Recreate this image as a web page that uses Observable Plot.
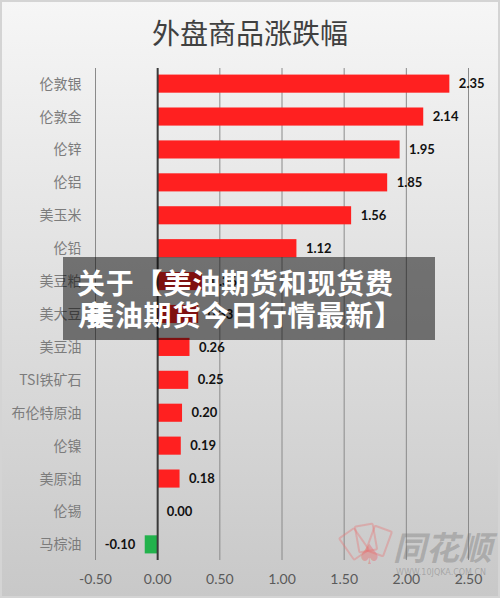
<!DOCTYPE html>
<html><head><meta charset="utf-8">
<script src="https://cdn.jsdelivr.net/npm/d3@7"></script>
<script src="https://cdn.jsdelivr.net/npm/@observablehq/plot@0.6"></script>
<style>
body{margin:0;}
#wrap{position:relative;width:500px;height:598px;overflow:hidden;background:linear-gradient(#f6f6f6,#c8c8c8);}
#frame{position:absolute;left:0;top:0;width:500px;height:598px;box-sizing:border-box;border:2px solid #d4d4d4;pointer-events:none;}
#title{position:absolute;left:0;top:15px;width:500px;text-align:center;font:28px/34px "Noto Sans CJK SC",sans-serif;color:#404040;}
#chart{position:absolute;left:0;top:60px;}
#overlay{position:absolute;left:63px;top:257px;width:372px;height:83px;background:rgba(0,0,0,0.5);}
.ov{position:absolute;color:#fff;font:bold 28px/30px "Noto Sans CJK SC",sans-serif;letter-spacing:0.8px;white-space:nowrap;}
#wm{position:absolute;left:393px;top:528px;font:italic bold 33px/36px "Noto Sans CJK SC",sans-serif;color:rgba(110,110,110,0.35);}
#wm2{position:absolute;left:396px;top:568px;font:8px/10px "DejaVu Sans",sans-serif;color:rgba(110,110,110,0.4);}
#spade{position:absolute;left:357px;top:540px;font:28px/30px "DejaVu Sans",sans-serif;color:rgba(230,110,110,0.45);}
.card{position:absolute;width:16px;height:24px;border:2px solid rgba(230,120,120,0.4);border-radius:2px;}
</style></head>
<body>
<div id="wrap">
  <div id="title">外盘商品涨跌幅</div>
  <div id="chart"></div>
  <div class="card" style="left:344px;top:530px;transform:rotate(-35deg)"></div>
  <div class="card" style="left:356px;top:524px;transform:rotate(-10deg)"></div>
  <div class="card" style="left:369px;top:527px;transform:rotate(20deg)"></div>
  <div id="spade">♠</div>
  <div id="wm">同花顺</div>
  <div id="wm2">WWW.10JQKA.COM.CN</div>
  <div id="overlay"></div>
  <div class="ov" style="left:77px;top:267px;">关于【美油期货和现货费</div>
  <div class="ov" style="left:78px;top:299px;">用</div>
  <div class="ov" style="left:86px;top:299px;">美油期货今日行情最新】</div>
  <div id="frame"></div>
</div>
<script>
const categories = ["伦敦银","伦敦金","伦锌","伦铝","美玉米","伦铅","美豆粕","美大豆","美豆油","TSI铁矿石","布伦特原油","伦镍","美原油","伦锡","马棕油"];
const values = [2.35, 2.14, 1.95, 1.85, 1.56, 1.12, 0.36, 0.33, 0.26, 0.25, 0.20, 0.19, 0.18, 0.00, -0.10];
const xTicks = [-0.5, 0, 0.5, 1.0, 1.5, 2.0, 2.5];

const data = categories.map((name, i) => ({name, value: values[i]}));
const pos = data.filter(d => d.value >= 0);
const neg = data.filter(d => d.value < 0);
const fmt = v => v.toFixed(2);

const chart = Plot.plot({
  width: 500,
  height: 538,
  marginTop: 8,
  marginBottom: 38,
  marginLeft: 95,
  marginRight: 32,
  style: {background: "transparent", overflow: "visible"},
  x: {domain: [-0.5, 2.5], axis: null},
  y: {domain: categories, paddingInner: 0.45, paddingOuter: 0.2, round: false, axis: null},
  color: {type: "identity"},
  marks: [
    Plot.ruleX(xTicks.filter(t => t !== 0), {x: d => d, stroke: "#8a8a8a", strokeWidth: 1}),
    Plot.barX(data, {x: "value", y: "name", fill: d => d.value < 0 ? "#22b24c" : "#ff2020"}),
    Plot.ruleX([0], {x: d => d, stroke: "#3a3a3a", strokeWidth: 2}),
    Plot.text(pos, {x: "value", y: "name", text: d => fmt(d.value), dx: 9, textAnchor: "start",
      fontFamily: "Lato, sans-serif", fontWeight: "bold", fontSize: 13, fill: "#111"}),
    Plot.text(neg, {x: "value", y: "name", text: d => fmt(d.value), dx: -10, textAnchor: "end",
      fontFamily: "Lato, sans-serif", fontWeight: "bold", fontSize: 13, fill: "#111"}),
    Plot.text(categories, {y: d => d, text: d => d, frameAnchor: "left", dx: -14, textAnchor: "end",
      fontFamily: "'Noto Sans CJK SC', sans-serif", fontSize: 14, fill: "#7c7c7c"}),
    Plot.text(xTicks, {x: d => d, text: d => fmt(d), frameAnchor: "bottom", dy: 19, lineAnchor: "middle",
      fontFamily: "Lato, sans-serif", fontSize: 14, fill: "#5a5a5a"})
  ]
});
document.getElementById("chart").appendChild(chart);
</script>
</body></html>
